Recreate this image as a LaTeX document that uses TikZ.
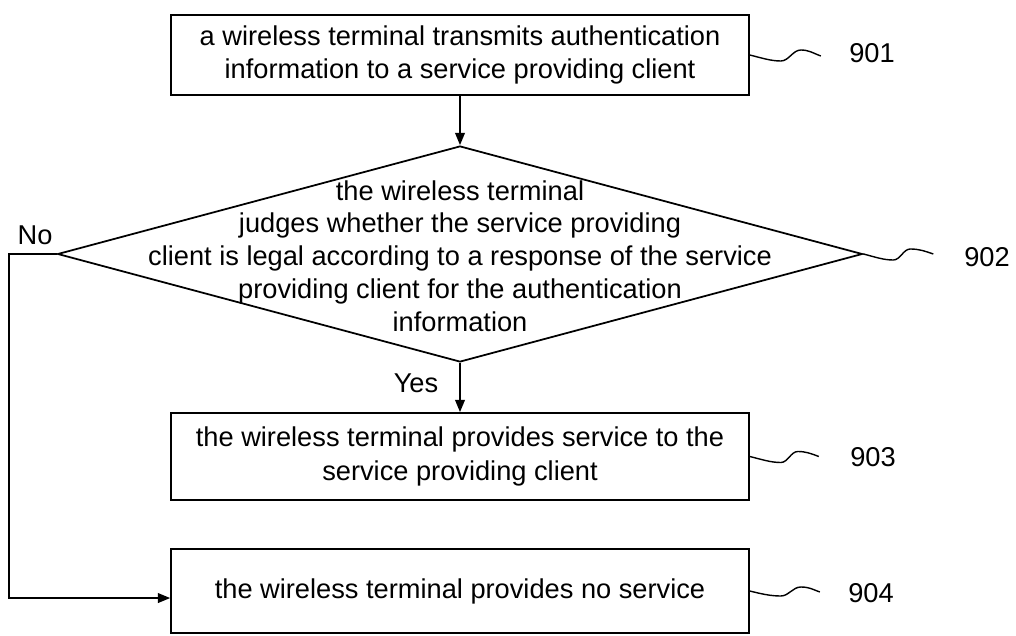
\documentclass[tikz,border=0pt]{standalone}
\usepackage{fontspec}
\setmainfont{Liberation Sans}
\usetikzlibrary{shapes.geometric, arrows.meta}
\tikzset{
    step box/.style = {draw, line width=1pt, minimum width=11.56cm, align=center, inner sep=0pt},
    decision/.style = {draw, line width=1pt, diamond, minimum width=16.1cm, minimum height=4.32cm, inner sep=0pt},
    flow/.style = {draw, line width=1pt, -{Triangle[length=7pt, width=5.5pt]}},
    lead/.style = {draw, line width=0.8pt},
}

\begin{document}
\begin{tikzpicture}[x=0.02cm, y=-0.02cm, font=\fontsize{15.5}{19}\selectfont]
    \useasboundingbox (0, 0) rectangle (1016, 635);

    \node[step box, minimum height=1.6cm] (b901) at (460, 55) {a wireless terminal transmits authentication\\information to a service providing client};

    \node[decision] (d902) at (460, 254) {};
    \node[align=center, font=\fontsize{15.5}{18.7}\selectfont] (t902) at (460, 256) {the wireless terminal\\judges whether the service providing\\client is legal according to a response of the service\\providing client for the authentication\\information};

    \node[step box, minimum height=1.74cm] (b903) at (460, 456.5) {the wireless terminal provides service to the\\service providing client};
    \node[step box, minimum height=1.68cm] (b904) at (460, 591) {the wireless terminal provides no service};

    \node (no) at (35, 235) {No};
    \node (yes) at (416, 383) {Yes};

    \node (l901) at (872, 53) {901};
    \node (l902) at (987, 257) {902};
    \node (l903) at (873, 457) {903};
    \node (l904) at (871, 593) {904};

    \draw[flow] (b901) -- (d902);
    \draw[flow] (d902) -- (b903);
    \draw[flow] (d902.west) -- ++(-48, 0) |- ([yshift=-4pt]b904.west);

    % reference squiggles
    \draw[lead] (b901.east) .. controls +(12, 3) and +(-10, 0) .. ++(31, 6) .. controls +(8, 0) and +(-8, 0) .. ++(20, -11) .. controls +(8, 0) and +(-8, -3) .. ++(20, 6);
    \draw[lead] (d902.east) .. controls +(12, 3) and +(-10, 0) .. ++(30, 6) .. controls +(7, 0) and +(-7, 0) .. ++(17, -11) .. controls +(9, 0) and +(-9, -3) .. ++(23, 5);
    \draw[lead] (b903.east) .. controls +(12, 3) and +(-10, 0) .. ++(31, 6) .. controls +(7, 0) and +(-7, 0) .. ++(17, -11) .. controls +(8, 0) and +(-8, -3) .. ++(21, 5);
    \draw[lead] (b904.east) .. controls +(12, 3) and +(-10, 0) .. ++(31, 5) .. controls +(8, 0) and +(-8, 0) .. ++(20, -9) .. controls +(8, 0) and +(-8, -3) .. ++(19, 5);
\end{tikzpicture}
\end{document}
